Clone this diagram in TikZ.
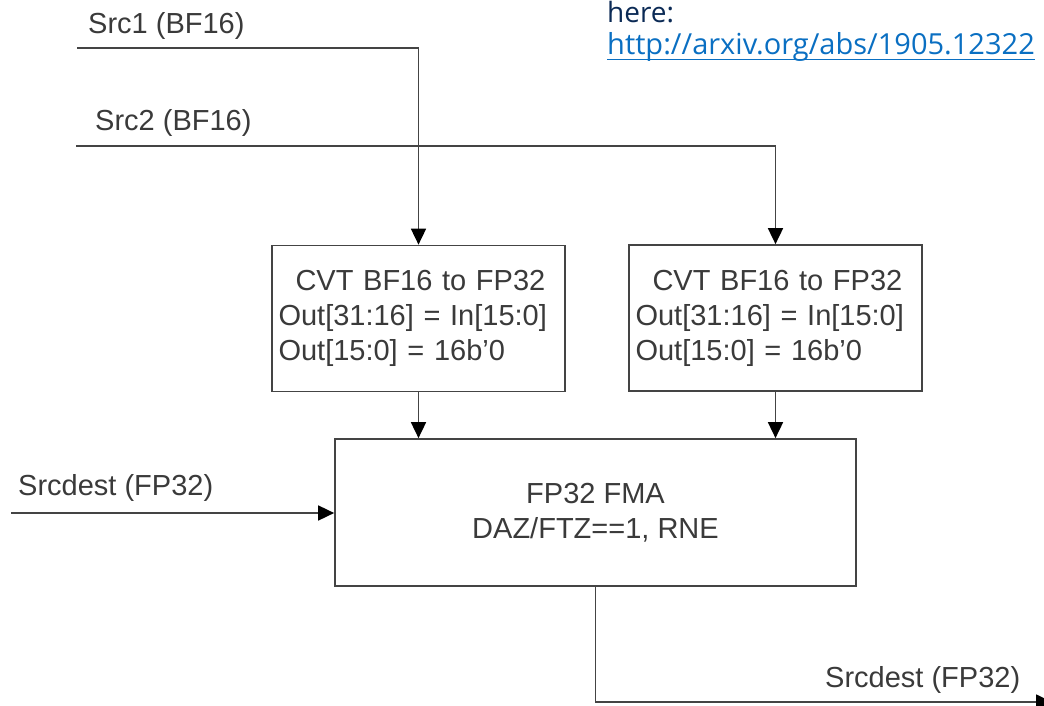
\documentclass[tikz,border=0pt]{standalone}
\usepackage{fontspec}
\setmainfont{Liberation Sans}
\newfontfamily\notefont{Open Sans}
\usepackage{tikz}
\usetikzlibrary{arrows.meta,positioning,calc}
\definecolor{ink}{HTML}{3A3A3A}
\definecolor{wirec}{HTML}{444444}
\definecolor{navy}{HTML}{0B2A55}
\definecolor{linkblue}{HTML}{0A6FC2}

\begin{document}
\begin{tikzpicture}[x=1pt,y=-1pt,
  wire/.style={wirec,line width=1.7pt},
  feed/.style={wire,-{Triangle[width=15pt,length=16pt,color=black]}},
  cvtbox/.style={draw=wirec,line width=1.7pt,minimum width=293pt,minimum height=146pt,
    text width=280pt,align=left,inner sep=0pt,text=ink,font=\fontsize{29}{35}\selectfont},
  fmabox/.style={draw=wirec,line width=1.7pt,minimum width=521pt,minimum height=147pt,
    align=center,inner sep=0pt,text=ink,font=\fontsize{29}{35}\selectfont},
  lbl/.style={text=ink,font=\fontsize{29}{32}\selectfont,inner sep=0pt,anchor=west}]
  \useasboundingbox (0,0) rectangle (1044,706);

  % Note (top right)
  \node[anchor=base west,inner sep=0pt,text=navy,font=\notefont\fontsize{28}{32}\selectfont] (here) at (607,23) {here:};
  \node[anchor=base west,inner sep=0pt,text=linkblue,font=\notefont\fontsize{29}{32}\selectfont] (link) at (607,55) {http://arxiv.org/abs/1905.12322};
  \draw[linkblue,line width=1.6pt] ([yshift=-4.5pt]link.base west) -- ([yshift=-4.5pt]link.base east);

  % Converters
  \node[cvtbox] (cvt1) at (418.5,318.5) {\hspace*{17pt}CVT BF16 to FP32\\Out[31:16] = In[15:0]\\Out[15:0] = 16b'0};
  \node[cvtbox] (cvt2) at (775.5,318) {\hspace*{17pt}CVT BF16 to FP32\\Out[31:16] = In[15:0]\\Out[15:0] = 16b'0};

  % FMA
  \node[fmabox] (fma) at (595.5,512.5) {FP32 FMA\\DAZ/FTZ==1, RNE};

  % Inputs
  \node[lbl] (src1lbl) at (88,26) {Src1 (BF16)};
  \node[lbl] (src2lbl) at (95,123) {Src2 (BF16)};
  \node[lbl] (sdinlbl) at (18,488) {Srcdest (FP32)};
  \coordinate (src1) at (77,48);
  \coordinate (src2) at (76,146);
  \coordinate (sdin) at (11,513);
  \draw[feed] (src1) -| (cvt1);
  \draw[feed] (src2) -| (cvt2);
  \draw[feed] (sdin) -- (sdin -| fma.west);
  \draw[feed] (cvt1.south) -- (cvt1.south |- fma.north);
  \draw[feed] (cvt2.south) -- (cvt2.south |- fma.north);

  % Output
  \node[lbl] (sdoutlbl) at (825,680) {Srcdest (FP32)};
  \coordinate (sdout) at (1052,702);
  \draw[feed] (fma.south) |- (sdout);
\end{tikzpicture}
\end{document}
